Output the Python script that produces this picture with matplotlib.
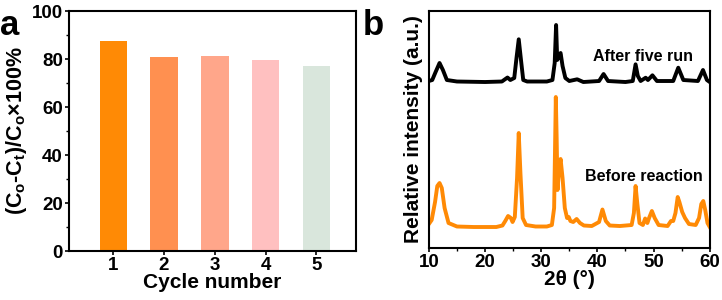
import matplotlib.pyplot as plt
from matplotlib.ticker import MultipleLocator

plt.rcParams['font.family'] = ['Liberation Sans', 'DejaVu Sans']
plt.rcParams['font.weight'] = 'bold'
plt.rcParams['mathtext.fontset'] = 'custom'
plt.rcParams['mathtext.rm'] = 'Liberation Sans:bold'
plt.rcParams['mathtext.bf'] = 'Liberation Sans:bold'
plt.rcParams['mathtext.default'] = 'bf'

# panel a: removal efficiency per cycle
cycles = [1, 2, 3, 4, 5]
efficiency = [87.6, 80.7, 81.4, 79.5, 77.2]
bar_colors = ['#FF8A05', '#FF9050', '#FFA68A', '#FFC0C0', '#D9E6DC']

# panel b: XRD patterns (arbitrary units)
before_x = [10, 10.5, 11.1, 11.5, 11.9, 12.3, 12.8, 13.5, 15, 18, 20, 22, 23.1, 23.6,
            24.1, 24.6, 24.9, 25.3, 25.7, 26.0, 26.3, 26.7, 27.3, 29, 31, 31.9, 32.3,
            32.6, 32.75, 32.9, 33.2, 33.45, 33.8, 34.2, 34.6, 34.9, 35.2, 35.7, 36.3,
            36.9, 37.6, 39, 40.3, 40.9, 41.5, 42.2, 44, 46.1, 46.5, 46.8, 47.1, 47.5, 48.1,
            48.5, 48.9, 49.2, 49.7, 50.2, 50.9, 52.5, 53.1, 53.5, 53.9, 54.3, 54.6, 55.1,
            55.6, 56.3, 57.5, 58.1, 58.5, 58.85, 59.2, 59.6, 60]
before_y = [24, 28, 46, 62, 65, 60, 40, 25, 21.5, 21, 21, 21, 22.5, 27,
            32, 30, 26, 31, 70, 115, 75, 30, 23, 21.5, 21.5, 23, 40,
            151, 110, 58, 80, 89, 70, 40, 30, 31, 27, 26, 29,
            25, 22.5, 22, 26, 38.5, 27, 22.5, 22, 23, 35, 62, 45, 25, 23,
            29.5, 25, 30, 37, 30, 23, 22, 27, 27, 35, 51, 46, 36,
            30, 24, 23, 30, 44, 47, 38, 25, 21]

after_x = [10, 10.6, 11.2, 11.9, 12.5, 13.2, 15, 20, 23, 24.0, 24.5, 25.2, 25.6, 26.0,
           26.4, 26.8, 27.5, 31, 32.0, 32.4, 32.65, 32.85, 33.1, 33.45, 33.8, 34.3, 35,
           36.4, 37.5, 40.3, 41.1, 41.9, 45, 46.3, 46.8, 47.2, 47.7, 48.6, 49.0, 49.8,
           50.6, 53.5, 54.4, 55.3, 57.9, 58.8, 59.5, 60]
after_y = [167, 168, 176, 185, 178, 168, 166.5, 166, 166.5, 170.5, 168, 170, 190, 208.7,
           188, 168, 166.5, 166.5, 168, 185, 223, 188, 192, 195, 182, 170, 167,
           168.7, 166, 167, 174, 167, 166, 167, 183.7, 172, 167, 170.3, 168, 172.7,
           167, 167, 180.3, 168, 167, 178, 168, 166]

fig = plt.figure(figsize=(7.22, 3.0), dpi=100)

# ---- panel a ----
ax1 = fig.add_axes([0.0956, 0.1633, 0.3975, 0.8])
ax1.bar(cycles, efficiency, width=0.54, color=bar_colors)
ax1.set_xlim(0.13, 5.78)
ax1.set_ylim(0, 100)
ax1.yaxis.set_major_locator(MultipleLocator(20))
ax1.yaxis.set_minor_locator(MultipleLocator(10))
ax1.set_xticks(cycles)
ax1.set_xlabel('Cycle number', fontsize=15, fontweight='bold', labelpad=-1)
ax1.set_ylabel(r'(C$_{o}$-C$_{t}$)/C$_{o}$$\times$100%',
               fontsize=15.5, fontweight='bold', labelpad=2)
ax1.text(-0.24, 1.01, 'a', transform=ax1.transAxes, fontsize=25, fontweight='bold',
         va='top', ha='left')

# ---- panel b ----
ax2 = fig.add_axes([0.594, 0.1733, 0.389, 0.79])
ax2.plot(before_x, before_y, color='#FF8A05', lw=2.8, solid_joinstyle='round')
ax2.plot(after_x, after_y, color='black', lw=2.8, solid_joinstyle='round')
ax2.set_xlim(10, 60)
ax2.set_ylim(0, 237)
ax2.xaxis.set_major_locator(MultipleLocator(10))
ax2.xaxis.set_minor_locator(MultipleLocator(5))
ax2.set_yticks([])
ax2.set_xlabel('2\u03b8 (\u00b0)', fontsize=15, fontweight='bold', labelpad=-1)
ax2.set_ylabel('Relative intensity (a.u.)', fontsize=15, fontweight='bold', labelpad=4)
ax2.text(0.94, 0.81, 'After five run', transform=ax2.transAxes, fontsize=11.5,
         fontweight='bold', ha='right', va='center')
ax2.text(0.975, 0.30, 'Before reaction', transform=ax2.transAxes, fontsize=11.5,
         fontweight='bold', ha='right', va='center')
ax2.text(-0.235, 1.01, 'b', transform=ax2.transAxes, fontsize=25, fontweight='bold',
         va='top', ha='left')

for ax in (ax1, ax2):
    for s in ax.spines.values():
        s.set_linewidth(1.5)
    ax.tick_params(which='major', direction='out', length=3, width=1.2,
                   labelsize=13.5, pad=1.5)
    ax.tick_params(which='minor', direction='out', length=2, width=1)
    for lab in ax.get_xticklabels() + ax.get_yticklabels():
        lab.set_fontweight('bold')

fig.savefig('out.png', dpi=100)
